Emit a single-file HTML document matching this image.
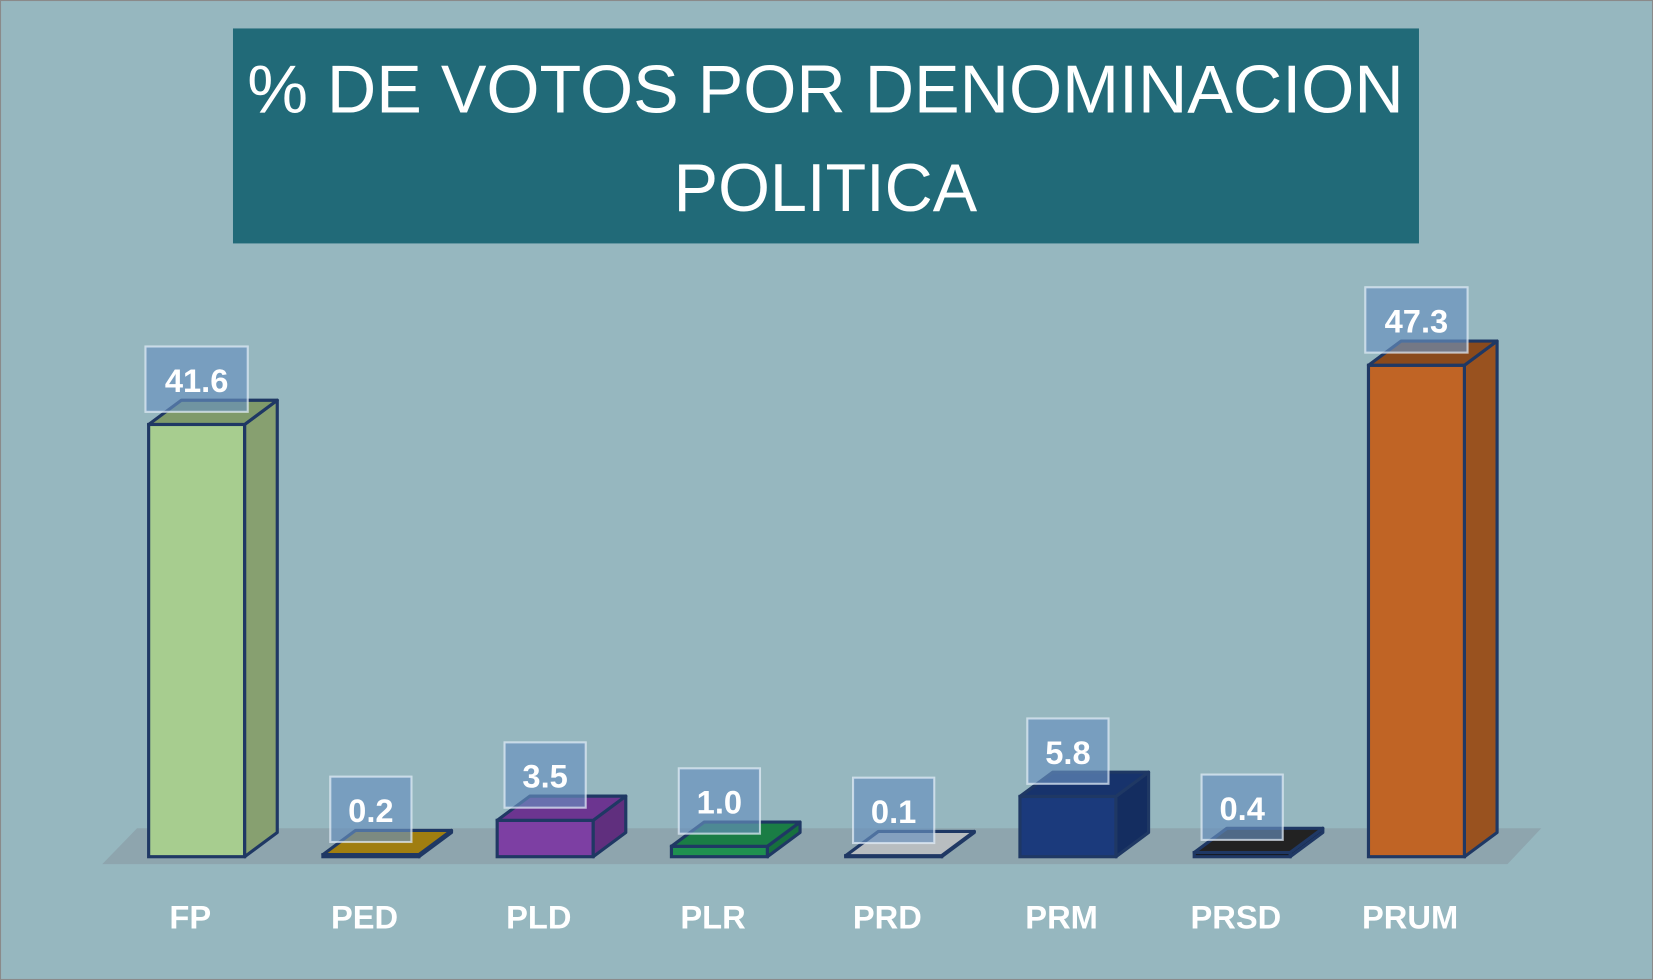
<!DOCTYPE html>
<html><head><meta charset="utf-8"><style>
html,body{margin:0;padding:0;background:#96b7bf;}
svg{display:block;font-family:"Liberation Sans",sans-serif;}
</style></head><body>
<svg id="chart" width="1653" height="980" viewBox="0 0 1568 930" preserveAspectRatio="none">
<rect x="0.5" y="0.5" width="1567" height="929" fill="#96b7bf" stroke="#8a8a8a"/>
<rect x="221" y="27" width="1125" height="204" fill="#216a78"/>
<text x="783" y="107" fill="#fff" font-size="64" text-anchor="middle" textLength="1097" lengthAdjust="spacingAndGlyphs">% DE VOTOS POR DENOMINACION</text>
<text x="783" y="200" fill="#fff" font-size="64" text-anchor="middle" textLength="288" lengthAdjust="spacingAndGlyphs">POLITICA</text>
<polygon points="97,820 1430,820 1462,786 130,786" fill="#8ea5ae"/>
<g id="bars"></g>
<g id="labels"></g>
</svg>
<script>
const categories = ["FP","PED","PLD","PLR","PRD","PRM","PRSD","PRUM"];
const values = [41.6,0.2,3.5,1.0,0.1,5.8,0.4,47.3];
const valueLabels = ["41.6","0.2","3.5","1.0","0.1","5.8","0.4","47.3"];
const fronts = ["#a7cd8f","#b08a12","#7d3fa3","#1f9050","#c8cdd0","#1b3a7c","#141414","#c06425"];
const sides = ["#87a070","#8a6c0e","#602f7e","#17703e","#a6abae","#142d60","#0c0c0c","#99521f"];
const tops = ["#7f9a6a","#a07e10","#6c3590","#1a7d45","#b8bdc0","#17336c","#222222","#8a4a1c"];
const NS="http://www.w3.org/2000/svg";
const baseY=813, pxPerUnit=9.86, x0=141, step=165.3, w=91, dx=31, dy=23;
function xScale(i){return x0+i*step;}
function yScale(v){return baseY-v*pxPerUnit;}
const gB=document.getElementById('bars'), gL=document.getElementById('labels');
function mk(tag,attrs,parent){const e=document.createElementNS(NS,tag);for(const k in attrs)e.setAttribute(k,attrs[k]);parent.appendChild(e);return e;}
categories.forEach((c,i)=>{
  const x=xScale(i), yt=yScale(values[i]);
  const g=mk('g',{},gB);
  
  
  mk('polygon',{points:`${x+w},${yt} ${x+w+dx},${yt-dy} ${x+w+dx},${baseY-dy} ${x+w},${baseY}`,fill:sides[i],stroke:'#1f3864','stroke-width':3,'stroke-linejoin':'round'},g);
  mk('rect',{x:x,y:yt,width:w,height:baseY-yt,fill:fronts[i],stroke:'#1f3864','stroke-width':3},g);
  mk('polygon',{points:`${x},${yt} ${x+dx},${yt-dy} ${x+w+dx},${yt-dy} ${x+w},${yt}`,fill:tops[i],stroke:'#1f3864','stroke-width':3,'stroke-linejoin':'round'},g);
  const cx=x+w/2, bw=valueLabels[i].length>3?97:77;
  const lb=mk('rect',{x:cx-bw/2,y:yt-74,width:bw,height:62,fill:'rgba(105,145,190,0.65)',stroke:'rgba(230,240,250,0.7)','stroke-width':2},gL);
  
  
  const t=mk('text',{x:cx,y:yt-31,fill:'#fff','font-size':31,'font-weight':'bold','text-anchor':'middle'},gL);
  t.textContent=valueLabels[i];
  
  
  const ct=mk('text',{x:cx-6,y:881,fill:'#fff','font-size':31,'font-weight':'bold','text-anchor':'middle'},gL);
  ct.textContent=c;
  
  
});
</script>
</body></html>
